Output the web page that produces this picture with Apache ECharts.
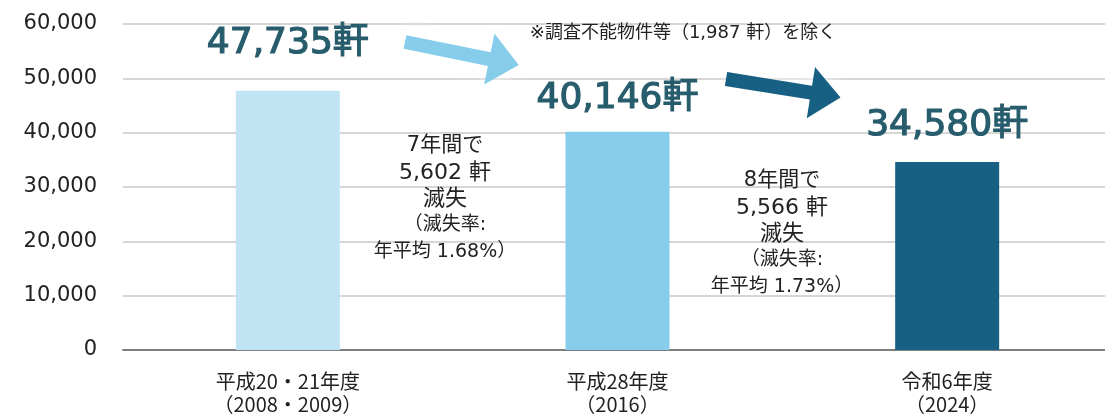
<!DOCTYPE html>
<html>
<head>
<meta charset="utf-8">
<script src="https://cdn.jsdelivr.net/npm/echarts@6/dist/echarts.min.js"></script>
<style>
  html, body { margin: 0; padding: 0; background: #fff; }
  #main { width: 1105px; height: 414px; }
</style>
</head>
<body>
<div id="main"></div>
<script>
  // データ
  const categories = ['平成20・21年度\n（2008・2009）', '平成28年度\n（2016）', '令和6年度\n（2024）']
  const values = [47735, 40146, 34580]
  const barColors = ['#c0e4f4', '#85cdeb', '#176083']
  const labelGaps = [29, 15, 18]
  const lossNotes = [
    ['7年間で', '5,602 軒', '滅失', '（滅失率:', '年平均 1.68%）'],
    ['8年間で', '5,566 軒', '滅失', '（滅失率:', '年平均 1.73%）']
  ]
  const footnote = '※調査不能物件等（1,987 軒）を除く'

  const FONT = '"DejaVu Sans", "Noto Sans CJK JP", sans-serif'
  const JP = '"Noto Sans CJK JP", sans-serif'
  const fmt = v => v.toLocaleString('en-US')

  // 矢印（右向きの多角形を回転させる）
  function arrow (x, y, angle, color) {
    return {
      type: 'polygon',
      x: x,
      y: y,
      rotation: angle,
      shape: {
        points: [[0, -7], [86, -7], [86, -26], [116, 0], [86, 26], [86, 7], [0, 7]]
      },
      style: {
        fill: color,
        shadowColor: 'rgba(255,255,255,1)',
        shadowBlur: 18
      },
      z: 10
    }
  }

  function noteBlock (cx, top, lines) {
    const sizes = [21, 22, 22, 19, 19]
    const gaps = [27, 26, 26, 27]
    let y = top
    return lines.map((t, i) => {
      const el = {
        type: 'text',
        x: cx,
        y: y,
        style: {
          text: t,
          font: sizes[i] + 'px ' + FONT,
          fill: '#222',
          align: 'center',
          verticalAlign: 'middle'
        },
        z: 10
      }
      y += gaps[i] || 0
      return el
    })
  }

  const chart = echarts.init(document.getElementById('main'))
  chart.setOption({
    animation: false,
    grid: {
      left: 123,
      right: -7,
      top: 24,
      bottom: 64,
      outerBoundsMode: 'none'
    },
    xAxis: {
      type: 'category',
      data: categories,
      axisLine: { lineStyle: { color: '#7f7f7f', width: 2 } },
      axisTick: { show: false },
      axisLabel: {
        color: '#222',
        fontSize: 20,
        fontFamily: JP,
        lineHeight: 23,
        margin: 20
      }
    },
    yAxis: {
      type: 'value',
      min: 0,
      max: 60000,
      interval: 10000,
      axisLine: { show: false },
      axisTick: { show: false },
      splitLine: { lineStyle: { color: '#c8c8c8', width: 1.5 } },
      axisLabel: {
        color: '#222',
        fontSize: 21,
        fontFamily: FONT,
        margin: 26,
        formatter: v => fmt(v)
      }
    },
    series: [
      {
        type: 'bar',
        barWidth: 104,
        data: values.map((v, i) => ({
          value: v,
          itemStyle: { color: barColors[i] },
          label: {
            show: true,
            position: 'top',
            distance: labelGaps[i],
            formatter: p => fmt(p.value) + '軒',
            color: '#275c6c',
            fontSize: 36,
            fontFamily: FONT,
            textBorderColor: '#275c6c',
            textBorderWidth: 1.2
          }
        }))
      }
    ],
    graphic: [
      arrow(405, 42, -0.2, '#85cdeb'),
      arrow(726, 79, -0.16, '#176083'),
      {
        type: 'text',
        x: 683,
        y: 33,
        style: {
          text: footnote,
          font: '18px ' + FONT,
          fill: '#222',
          align: 'center',
          verticalAlign: 'middle'
        },
        z: 10
      }
    ].concat(noteBlock(445, 146, lossNotes[0]), noteBlock(782, 181, lossNotes[1]))
  })
</script>
</body>
</html>
